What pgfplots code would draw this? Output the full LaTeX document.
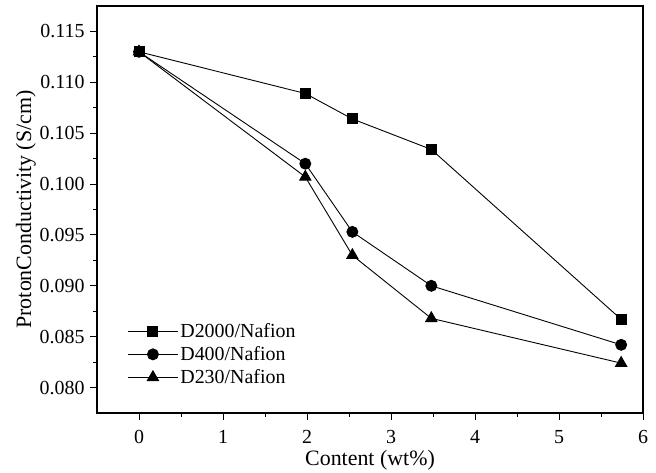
\documentclass[border=0pt]{standalone}
\usepackage{pgfplots}
\pgfplotsset{compat=1.18}
\usepackage{fontspec}
\setmainfont{Liberation Serif}

\begin{document}
\begin{tikzpicture}
  \begin{axis}[name=ax, scale only axis,
     width=546bp, height=407bp,
     xmin=-0.5, xmax=6, ymin=0.0775, ymax=0.1175,
     xtick={0,1,2,3,4,5,6}, minor x tick num=1,
     ytick={0.080,0.085,0.090,0.095,0.100,0.105,0.110,0.115}, minor y tick num=1,
     xtick pos=left, ytick pos=left, tick align=outside,
     major tick length=7bp, minor tick length=4bp,
     axis line style={line width=1.2pt}, every tick/.style={line width=1pt, black},
     /pgf/number format/assume math mode=true,
     yticklabel style={font=\fontsize{20}{22}\selectfont, xshift=-2bp,
       /pgf/number format/.cd, fixed, fixed zerofill, precision=3},
     xticklabel style={font=\fontsize{20}{22}\selectfont, yshift=-7bp},
     scaled y ticks=false,
     label style={font=\fontsize{22}{25}\selectfont},
     xlabel={Content (wt\%)}, ylabel={ProtonConductivity (S/cm)},
     xlabel style={yshift=1bp}, ylabel style={yshift=-3bp},
     legend style={at={(0.05,0.23)}, anchor=north west, draw=none, fill=none,
       font=\fontsize{20}{22}\selectfont, row sep=3.5bp},
     legend cell align=left,
     legend image code/.code={\draw[mark repeat=2, mark phase=2, #1]
       plot coordinates {(0bp,0bp) (25bp,0bp) (50bp,0bp)};},
     every axis plot/.append style={line width=0.9pt, black}]
     \addplot [mark=square*, mark size=5bp] coordinates {
       (0,0.1130) (1.98,0.1089) (2.54,0.1064) (3.48,0.1034) (5.74,0.0867) };
     \addlegendentry{D2000/Nafion}
     \addplot [mark=*, mark size=5.5bp] coordinates {
       (0,0.1130) (1.98,0.1020) (2.54,0.0953) (3.48,0.0900) (5.74,0.0842) };
     \addlegendentry{D400/Nafion}
     \addplot [mark=triangle*, mark size=6.5bp] coordinates {
       (0,0.1130) (1.98,0.1007) (2.54,0.0930) (3.48,0.0868) (5.74,0.0824) };
     \addlegendentry{D230/Nafion}
  \end{axis}
  \pgfresetboundingbox
  \path ([shift={(-97bp,-60bp)}]ax.south west) rectangle ([shift={(13bp,6bp)}]ax.north east);
\end{tikzpicture}
\end{document}
